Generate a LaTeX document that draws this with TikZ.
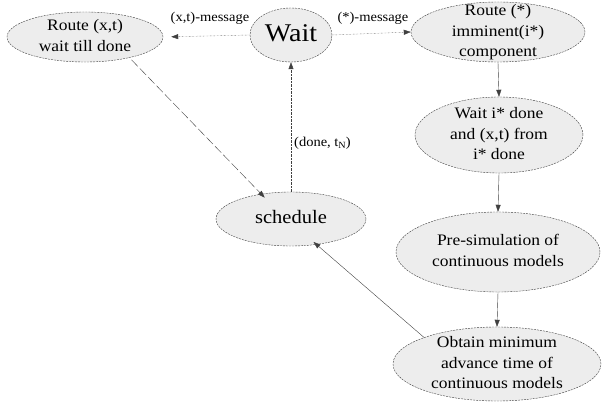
\documentclass[tikz,border=0pt]{standalone}
\usepackage{fontspec}
\usepackage{graphicx}
\setmainfont{Liberation Serif}
\newcommand\stxt[3]{\scalebox{#1}[#2]{\begin{tabular}{@{}c@{}}#3\end{tabular}}}
\renewcommand\arraystretch{1.07}
\usetikzlibrary{shapes.geometric,arrows.meta}
\begin{document}
\begin{tikzpicture}[x=1pt,y=-1pt,
  ell/.style={ellipse, draw=black!75, dash pattern=on 2pt off 1pt, fill=gray!14, inner xsep=0pt, inner ysep=-12pt},
  lbl/.style={inner sep=0pt},
  conn/.style={draw=black!75, -{Triangle[length=7pt,width=5pt]}},
  dotconn/.style={conn, densely dotted},
  longdash/.style={conn, dash pattern=on 9pt off 3pt}]
\useasboundingbox (0,0) rectangle (603,403);
% ellipses
\node[ell, minimum width=156pt, minimum height=50pt] (rxt) at (85,37) {\stxt{1.75}{1.6}{Route (x,t)\\wait till done}};
\node[ell, minimum width=82pt, minimum height=54pt] (wait) at (291,35) {\stxt{2.8}{2.55}{Wait}};
\node[ell, minimum width=174pt, minimum height=60pt] (rstar) at (498,32) {\stxt{1.75}{1.6}{Route (*)\\imminent(i*)\\component}};
\node[ell, minimum width=168pt, minimum height=76pt] (waiti) at (499,135) {\stxt{1.75}{1.6}{Wait i* done\\and (x,t) from\\i* done}};
\node[ell, minimum width=204pt, minimum height=80pt] (presim) at (498,252) {\stxt{1.75}{1.6}{Pre-simulation of\\continuous models}};
\node[ell, minimum width=208pt, minimum height=74pt] (obtain) at (497,364) {\stxt{1.75}{1.6}{Obtain minimum\\advance time of\\continuous models}};
\node[ell, minimum width=150pt, minimum height=54pt] (sched) at (291,219) {\stxt{2.05}{1.9}{schedule}};
% connectors
\draw[dotconn, shorten >=8pt] (wait.west) -- (rxt.east);
\draw[dotconn] (wait.east) -- (rstar.west);
\draw[conn] (rstar.south) -- (waiti.north);
\draw[conn] (waiti.south) -- (presim.north);
\draw[conn] (presim.south) -- (obtain.north);
\draw[conn, shorten >=-4pt] (obtain.160) -- (sched.-45);
\draw[longdash, shorten >=-5pt, shorten <=3pt] (rxt.-25) -- (sched.140);
\draw[dotconn] (sched.north) -- (wait.south);
% labels
\node[lbl] (l1) at (210,18) {\stxt{1.45}{1.35}{(x,t)-message}};
\node[lbl] (l2) at (373,18) {\stxt{1.45}{1.35}{(*)-message}};
\node[lbl, anchor=west] (l3) at (294,143) {\stxt{1.45}{1.35}{(done, t\raisebox{-0.3ex}{\scalebox{0.7}{N}})}};
\end{tikzpicture}
\end{document}
